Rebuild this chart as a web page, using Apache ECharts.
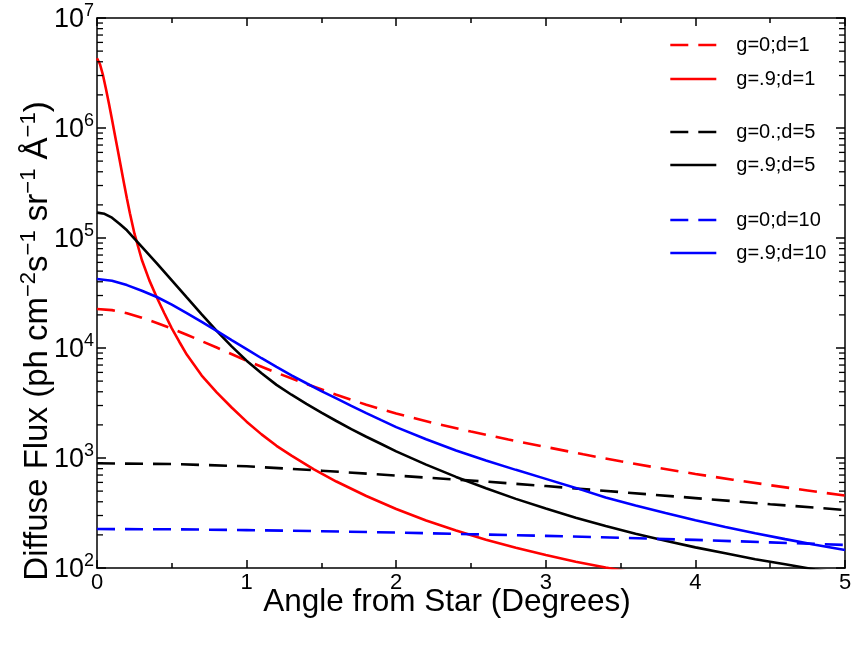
<!DOCTYPE html>
<html>
<head>
<meta charset="utf-8">
<script src="https://cdn.jsdelivr.net/npm/echarts@6/dist/echarts.min.js"></script>
<style>
  html, body { margin: 0; padding: 0; background: #fff; }
  #chart { width: 855px; height: 652px; }
</style>
</head>
<body>
<div id="chart"></div>
<script>
// Diffuse scattered flux versus angular distance from the star,
// for two scattering asymmetries (g) and three distances (d).

const seriesNames = ['g=0;d=1', 'g=.9;d=1', 'g=0.;d=5', 'g=.9;d=5', 'g=0;d=10', 'g=.9;d=10'];

// g=0, d=1
const angleG0D1 = [0, 0.1, 0.2, 0.3, 0.4, 0.5, 0.6, 0.8, 1.0, 1.2, 1.4, 1.6, 1.8, 2.0,
  2.25, 2.5, 2.75, 3.0, 3.25, 3.5, 3.75, 4.0, 4.25, 4.5, 4.75, 5.0];
const fluxG0D1 = [22600, 22100, 20700, 18800, 16900, 15000, 13200, 10100, 7670, 5960, 4700, 3760, 3050, 2540,
  2080, 1740, 1470, 1260, 1080, 933, 813, 716, 635, 566, 507, 455];

// g=.9, d=1
const angleG9D1 = [0, 0.02, 0.04, 0.06, 0.08, 0.1, 0.12, 0.14, 0.16, 0.18, 0.2, 0.22,
  0.25, 0.3, 0.35, 0.4, 0.45, 0.5, 0.55, 0.6,
  0.7, 0.8, 0.9, 1.0, 1.1, 1.2, 1.3,
  1.45, 1.6, 1.8, 2.0, 2.2, 2.4, 2.6, 2.8, 3.0, 3.2, 3.4, 3.6];
const fluxG9D1 = [4.31e6, 3.80e6, 3.02e6, 2.26e6, 1.66e6, 1.20e6, 8.61e5, 6.17e5, 4.42e5, 3.16e5, 2.29e5, 1.68e5,
  1.10e5, 6.31e4, 4.12e4, 2.88e4, 2.07e4, 1.51e4, 1.14e4, 8710,
  5620, 3950, 2880, 2140, 1640, 1290, 1050,
  789, 611, 451, 344, 270, 219, 181, 153, 131, 114, 101, 90];

// g=0, d=5
const angleG0D5 = [0, 0.5, 1.0, 1.5, 2.0, 2.5, 3.0, 3.5, 4.0, 4.5, 5.0];
const fluxG0D5 = [895, 881, 841, 767, 692, 624, 556, 490, 432, 380, 337];

// g=.9, d=5
const angleG9D5 = [0, 0.05, 0.1, 0.15, 0.2, 0.25, 0.3,
  0.4, 0.5, 0.6, 0.7, 0.8, 0.9, 1.0, 1.1, 1.2, 1.3, 1.4, 1.5, 1.6, 1.7, 1.8, 1.9, 2.0,
  2.2, 2.4, 2.6, 2.8, 3.0, 3.2, 3.4, 3.6, 3.8, 4.0, 4.2, 4.4, 4.6, 4.8, 5.0];
const fluxG9D5 = [170000, 166000, 153000, 135000, 117500, 98900, 83200,
  58900, 41200, 28800, 20200, 14300, 10350, 7670, 5890, 4620, 3760, 3100, 2580, 2170, 1830, 1560, 1340, 1150,
  871, 673, 530, 425, 347, 287, 241, 205, 177, 154, 136, 120, 108, 97, 88];

// g=0, d=10
const angleG0D10 = [0, 0.5, 1.0, 1.5, 2.0, 2.5, 3.0, 3.5, 4.0, 4.5, 5.0];
const fluxG0D10 = [226, 225, 221, 216, 210, 203, 196, 188, 180, 171, 162];

// g=.9, d=10
const angleG9D10 = [0, 0.1, 0.2, 0.3, 0.4, 0.5, 0.6, 0.7, 0.8, 0.9, 1.0, 1.1, 1.2, 1.3, 1.4, 1.5,
  1.6, 1.7, 1.8, 1.9, 2.0, 2.2, 2.4, 2.6, 2.8, 3.0, 3.2, 3.4, 3.6, 3.8, 4.0, 4.2, 4.4, 4.6, 4.8, 5.0];
const fluxG9D10 = [42400, 40900, 37300, 33100, 29100, 24800, 20800, 17300, 14300, 11800, 9770, 8070, 6730, 5650, 4780, 4060,
  3480, 2980, 2560, 2210, 1910, 1480, 1170, 951, 780, 646, 535, 438, 370, 316, 272, 236, 207, 183, 163, 146];

// axis ranges and log-axis minor tick positions
const xTickValues = [0, 1, 2, 3, 4, 5];
const yDecades = [1e2, 1e3, 1e4, 1e5, 1e6];
const yMinorMultipliers = [2, 3, 4, 5, 6, 7, 8, 9];
const yMinorTicks = [];
yDecades.forEach(d => yMinorMultipliers.forEach(m => yMinorTicks.push(d * m)));

const FONT = 'Liberation Sans, Arial, Helvetica, sans-serif';
const RED = '#ff0000', BLACK = '#000000', BLUE = '#0000ff';
const DASH = [18, 10];
const seriesColors = [RED, RED, BLACK, BLACK, BLUE, BLUE];
const seriesDashed = [true, false, true, false, true, false];

function pairs(xs, ys) { return xs.map((x, i) => [x, ys[i]]); }

function lineSeries(i, xs, ys) {
  const color = seriesColors[i];
  return {
    name: seriesNames[i],
    type: 'line',
    data: pairs(xs, ys),
    symbol: 'none',
    smooth: false,
    clip: true,
    color: color,
    lineStyle: { color: color, width: 2.6, type: seriesDashed[i] ? DASH : 'solid' },
    emphasis: { disabled: true }
  };
}

const legendRows = [46, 80, 133, 166, 221, 254];
const legends = seriesNames.map((n, i) => ({
  data: [n],
  left: 669,
  top: legendRows[i] - 11,
  padding: 0,
  itemWidth: 46,
  itemHeight: 22,
  itemGap: 0,
  selectedMode: false,
  itemStyle: { opacity: 0 },
  lineStyle: { color: seriesColors[i], width: 2.6, type: seriesDashed[i] ? DASH : 'solid' },
  textStyle: { fontFamily: FONT, fontSize: 20, color: '#000', padding: [0, 0, 0, 15] }
}));

const supRich = {
  b: { fontFamily: FONT, fontSize: 33, color: '#000', lineHeight: 33, verticalAlign: 'bottom' },
  s: { fontFamily: FONT, fontSize: 22, color: '#000', verticalAlign: 'bottom', padding: [0, 0, 15, 0] }
};

const chart = echarts.init(document.getElementById('chart'), null, { renderer: 'canvas' });
chart.setOption({
  animation: false,
  backgroundColor: '#ffffff',
  grid: { left: 97, right: 10, top: 18, bottom: 84, containLabel: false },
  legend: legends,
  xAxis: [
    {
      type: 'value', position: 'bottom', min: 0, max: 5, interval: 1,
      axisLine: { show: true, onZero: false, lineStyle: { color: '#000', width: 1.5 } },
      axisTick: { show: true, inside: true, length: 8, lineStyle: { color: '#000', width: 1.5 } },
      minorTick: { show: true, splitNumber: 2, length: 5, lineStyle: { color: '#000', width: 1.5 } },
      axisLabel: {
        margin: 4, color: '#000', fontFamily: FONT, fontSize: 22,
        formatter: v => (xTickValues.indexOf(v) >= 0 ? String(v) : '')
      },
      splitLine: { show: false }
    },
    {
      type: 'value', position: 'top', min: 0, max: 5, interval: 1,
      axisLine: { show: true, onZero: false, lineStyle: { color: '#000', width: 1.5 } },
      axisTick: { show: true, inside: true, length: 8, lineStyle: { color: '#000', width: 1.5 } },
      minorTick: { show: true, splitNumber: 2, length: 5, lineStyle: { color: '#000', width: 1.5 } },
      axisLabel: { show: false },
      splitLine: { show: false }
    }
  ],
  yAxis: [
    {
      type: 'log', logBase: 10, min: 1e2, max: 1e7, position: 'left',
      axisLine: { show: true, onZero: false, lineStyle: { color: '#000', width: 1.5 } },
      axisTick: { show: true, inside: true, length: 9, lineStyle: { color: '#000', width: 1.5 } },
      axisLabel: {
        margin: 3,
        formatter: v => '{b|10}{s|' + Math.round(Math.log10(v)) + '}',
        rich: {
          b: { fontFamily: FONT, fontSize: 27, color: '#000', lineHeight: 27, verticalAlign: 'bottom' },
          s: { fontFamily: FONT, fontSize: 18, color: '#000', verticalAlign: 'bottom', padding: [0, 0, 13, 0] }
        }
      },
      splitLine: { show: false }
    },
    {
      type: 'log', logBase: 10, min: 1e2, max: 1e7, position: 'right',
      axisLine: { show: true, onZero: false, lineStyle: { color: '#000', width: 1.5 } },
      axisTick: { show: true, inside: true, length: 9, lineStyle: { color: '#000', width: 1.5 } },
      axisLabel: { show: false },
      splitLine: { show: false }
    }
  ],
  graphic: [
    {
      type: 'text', x: 447, y: 602, silent: true,
      style: {
        text: 'Angle from Star (Degrees)', fill: '#000',
        font: '31.5px ' + FONT, align: 'center', verticalAlign: 'middle'
      }
    },
    {
      type: 'text', x: 36, y: 341, rotation: Math.PI / 2, silent: true,
      style: {
        text: '{b|Diffuse Flux (ph cm}{s|\u22122}{b|s}{s|\u22121}{b| sr}{s|\u22121}{b| \u00C5}{s|\u22121}{b|)}',
        align: 'center', verticalAlign: 'middle',
        rich: supRich
      }
    }
  ],
  series: [
    lineSeries(0, angleG0D1, fluxG0D1),
    lineSeries(1, angleG9D1, fluxG9D1),
    lineSeries(2, angleG0D5, fluxG0D5),
    lineSeries(3, angleG9D5, fluxG9D5),
    lineSeries(4, angleG0D10, fluxG0D10),
    lineSeries(5, angleG9D10, fluxG9D10),
    {
      // minor ticks of the logarithmic flux axis, on both the left and right frame edges
      type: 'custom',
      silent: true,
      z: 5,
      data: yMinorTicks.map(v => [0, v]),
      renderItem: function (params, api) {
        const left = api.coord([0, api.value(1)]);
        const right = api.coord([5, api.value(1)]);
        return {
          type: 'group',
          children: [
            { type: 'line', shape: { x1: left[0], y1: left[1], x2: left[0] + 6, y2: left[1] },
              style: { stroke: '#000', lineWidth: 1.3 } },
            { type: 'line', shape: { x1: right[0], y1: right[1], x2: right[0] - 6, y2: right[1] },
              style: { stroke: '#000', lineWidth: 1.3 } }
          ]
        };
      }
    }
  ]
});
</script>
</body>
</html>
